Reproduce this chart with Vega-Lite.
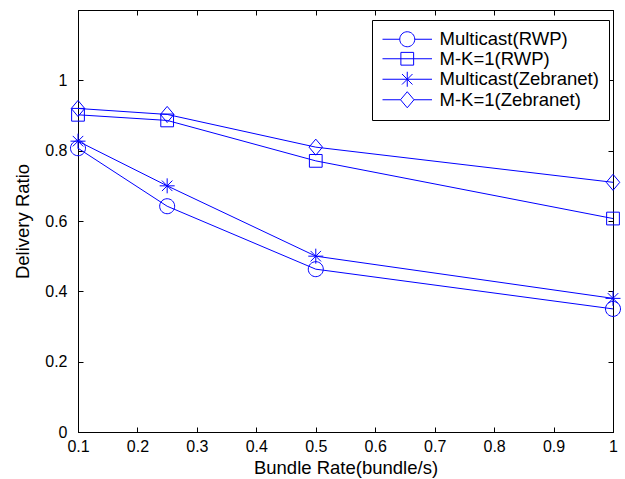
{
  "$schema": "https://vega.github.io/schema/vega-lite/v6.json",
  "width": 535,
  "height": 422,
  "autosize": {"type": "none"},
  "padding": {"left": 78, "top": 10, "right": 12, "bottom": 47},
  "background": "white",
  "config": {
    "font": "Liberation Sans",
    "view": {"stroke": "black", "strokeWidth": 1},
    "axis": {
      "grid": false,
      "domainColor": "black",
      "tickColor": "black",
      "tickSize": -5,
      "labelColor": "black",
      "titleColor": "black",
      "labelFont": "Liberation Sans",
      "titleFont": "Liberation Sans",
      "labelFontSize": 16,
      "titleFontSize": 18.5,
      "titleFontWeight": "normal"
    }
  },
  "data": {
    "values": [
      {"x": 0.1, "y": 0.807, "series": "Multicast(RWP)"},
      {"x": 0.25, "y": 0.642, "series": "Multicast(RWP)"},
      {"x": 0.5, "y": 0.463, "series": "Multicast(RWP)"},
      {"x": 1.0, "y": 0.35, "series": "Multicast(RWP)"},
      {"x": 0.1, "y": 0.902, "series": "M-K=1(RWP)"},
      {"x": 0.25, "y": 0.886, "series": "M-K=1(RWP)"},
      {"x": 0.5, "y": 0.771, "series": "M-K=1(RWP)"},
      {"x": 1.0, "y": 0.607, "series": "M-K=1(RWP)"},
      {"x": 0.1, "y": 0.827, "series": "Multicast(Zebranet)"},
      {"x": 0.25, "y": 0.70, "series": "Multicast(Zebranet)"},
      {"x": 0.5, "y": 0.50, "series": "Multicast(Zebranet)"},
      {"x": 1.0, "y": 0.38, "series": "Multicast(Zebranet)"},
      {"x": 0.1, "y": 0.92, "series": "M-K=1(Zebranet)"},
      {"x": 0.25, "y": 0.903, "series": "M-K=1(Zebranet)"},
      {"x": 0.5, "y": 0.81, "series": "M-K=1(Zebranet)"},
      {"x": 1.0, "y": 0.71, "series": "M-K=1(Zebranet)"}
    ]
  },
  "layer": [
    {
      "mark": {"type": "line", "color": "#0000ff", "strokeWidth": 1},
      "encoding": {
        "x": {
          "field": "x", "type": "quantitative",
          "scale": {"domain": [0.1, 1], "nice": false, "zero": false},
          "axis": {"orient": "bottom", "values": [0.1, 0.2, 0.3, 0.4, 0.5, 0.6, 0.7, 0.8, 0.9, 1], "format": "~g", "title": "Bundle Rate(bundle/s)", "labelPadding": 11, "titlePadding": 4, "labelFlush": false}
        },
        "y": {
          "field": "y", "type": "quantitative",
          "scale": {"domain": [0, 1.2], "nice": false},
          "axis": {"orient": "left", "values": [0, 0.2, 0.4, 0.6, 0.8, 1], "format": "~g", "title": "Delivery Ratio", "labelPadding": 16, "titlePadding": 12}
        },
        "detail": {"field": "series"}
      }
    },
    {
      "mark": {"type": "point", "filled": false, "color": "#0000ff", "strokeWidth": 1, "size": 225, "opacity": 1},
      "encoding": {
        "x": {"field": "x", "type": "quantitative", "axis": {"orient": "top", "values": [0.1, 0.2, 0.3, 0.4, 0.5, 0.6, 0.7, 0.8, 0.9, 1], "labels": false, "title": null}},
        "y": {"field": "y", "type": "quantitative", "axis": {"orient": "right", "values": [0, 0.2, 0.4, 0.6, 0.8, 1, 1.2], "labels": false, "title": null}},
        "shape": {
          "field": "series", "type": "nominal",
          "scale": {
            "domain": ["Multicast(RWP)", "M-K=1(RWP)", "Multicast(Zebranet)", "M-K=1(Zebranet)"],
            "range": [
              "M-1,0A1,1 0 1,0 1,0A1,1 0 1,0 -1,0Z",
              "M-0.85,-0.85H0.85V0.85H-0.85Z",
              "M-1,0H1M0,-1V1M-0.7,-0.7L0.7,0.7M-0.7,0.7L0.7,-0.7",
              "M0,-1.07L0.9,0L0,1.07L-0.9,0Z"
            ]
          },
          "legend": null
        }
      }
    },
    {
      "transform": [{"filter": "datum.x < 0"}],
      "mark": {"type": "point", "filled": false, "color": "#0000ff", "strokeWidth": 1, "opacity": 1},
      "encoding": {
        "x": {"field": "x", "type": "quantitative", "axis": null},
        "y": {"field": "y", "type": "quantitative", "axis": null},
        "shape": {
          "field": "series", "type": "nominal",
          "scale": {
            "domain": ["Multicast(RWP)", "M-K=1(RWP)", "Multicast(Zebranet)", "M-K=1(Zebranet)"],
            "range": [
              "M-3.3,0H-1M1,0H3.3M-1,0A1,1 0 1,0 1,0A1,1 0 1,0 -1,0Z",
              "M-3.3,0H3.3M-0.85,-0.85H0.85V0.85H-0.85Z",
              "M-3.3,0H3.3M0,-1V1M-0.7,-0.7L0.7,0.7M-0.7,0.7L0.7,-0.7",
              "M-3.3,0H-0.9M0.9,0H3.3M0,-1.07L0.9,0L0,1.07L-0.9,0Z"
            ]
          },
          "legend": {
            "title": null,
            "orient": "none",
            "legendX": 294,
            "legendY": 10,
            "strokeColor": "black",
            "fillColor": "white",
            "padding": 10,
            "symbolSize": 225,
            "symbolStrokeWidth": 1,
            "symbolStrokeColor": "#0000ff",
            "symbolFillColor": "transparent",
            "symbolOpacity": 1,
            "symbolOffset": 16,
            "labelOffset": 23,
            "labelFont": "Liberation Sans",
            "labelFontSize": 18.5,
            "labelColor": "black",
            "labelLimit": 300,
            "rowPadding": 0.5
          }
        }
      }
    }
  ],
  "resolve": {
    "scale": {"shape": "independent"},
    "axis": {"x": "independent", "y": "independent"},
    "legend": {"shape": "independent"}
  }
}
